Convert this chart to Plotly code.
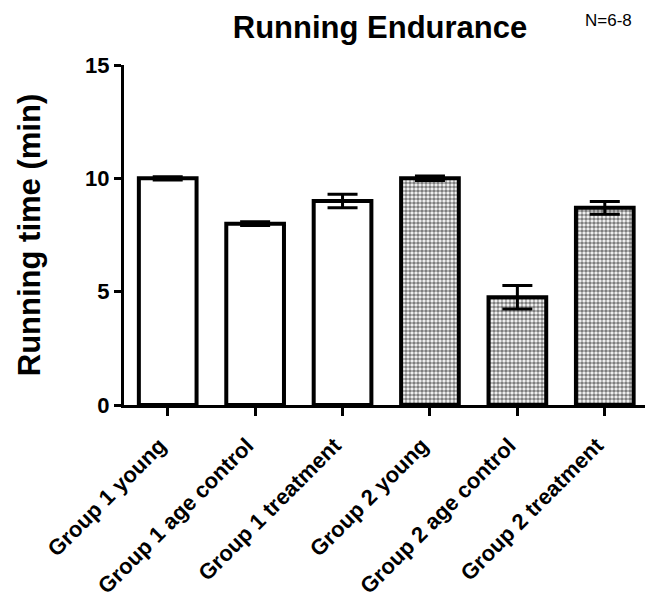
import plotly.graph_objects as go

categories = ["Group 1 young", "Group 1 age control", "Group 1 treatment",
              "Group 2 young", "Group 2 age control", "Group 2 treatment"]
means = [10.0, 8.0, 9.0, 10.0, 4.75, 8.7]
sems = [0.07, 0.08, 0.3, 0.1, 0.52, 0.28]
patterned = [False, False, False, True, True, True]
y_ticks = [0, 5, 10, 15]

FONT = "Liberation Sans, Arial, sans-serif"

fig = go.Figure()
fig.add_trace(go.Bar(
    x=categories,
    y=means,
    width=0.66,
    marker=dict(
        color="white",
        line=dict(color="black", width=4),
        pattern=dict(
            shape=["." if p else "" for p in patterned],
            size=4,
            solidity=0.65,
            fgcolor="black",
            bgcolor="white",
            fillmode="overlay",
        ),
    ),
    error_y=dict(type="data", array=sems, visible=True, color="black",
                 thickness=3, width=15),
    showlegend=False,
))

fig.update_layout(
    width=645, height=599,
    margin=dict(l=124, r=0, t=65, b=191),
    plot_bgcolor="white", paper_bgcolor="white",
    font=dict(family=FONT, color="black"),
    title=dict(text="<b>Running Endurance</b>", x=380 / 645, xanchor="center",
               y=1 - 27 / 599, yanchor="middle",
               font=dict(size=31, family=FONT, color="black")),
    xaxis=dict(
        range=[-0.5, 5.46],
        showline=True, linecolor="black", linewidth=3,
        ticks="outside", ticklen=8, tickwidth=3, tickcolor="black",
        tickangle=-45,
        ticklabelstandoff=8, ticklabelshift=-8,
        tickfont=dict(size=22, family=FONT, color="black", weight="bold"),
        showgrid=False, zeroline=False,
    ),
    yaxis=dict(
        range=[0, 15],
        tickvals=y_ticks,
        showline=True, linecolor="black", linewidth=3,
        ticks="outside", ticklen=7, tickwidth=3, tickcolor="black",
        tickfont=dict(size=22, family=FONT, color="black", weight="bold"),
        title=dict(text="<b>Running time (min)</b>", standoff=36,
                   font=dict(size=31, family=FONT, color="black")),
        showgrid=False, zeroline=False,
    ),
    annotations=[dict(text="N=6-8", x=(608 - 124) / 521, y=1 + (65 - 20) / 343,
                      xref="paper", yref="paper", xanchor="center",
                      yanchor="middle", showarrow=False,
                      font=dict(size=17, family=FONT, color="black"))],
)

fig.write_html("out.html", config={"displayModeBar": False},
               post_script="document.body.style.margin='0';")
